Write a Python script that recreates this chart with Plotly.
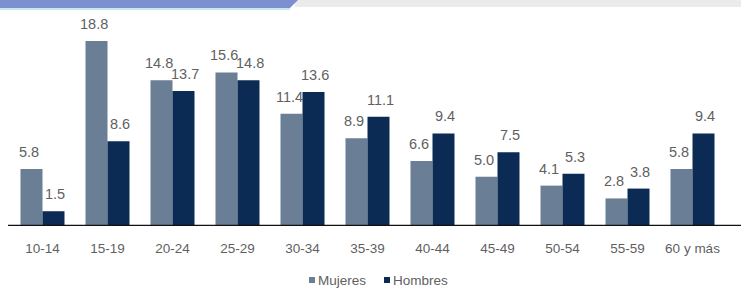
import plotly.graph_objects as go

categories = ["10-14", "15-19", "20-24", "25-29", "30-34", "35-39", "40-44", "45-49", "50-54", "55-59", "60 y más"]
mujeres = [5.8, 18.8, 14.8, 15.6, 11.4, 8.9, 6.6, 5.0, 4.1, 2.8, 5.8]
hombres = [1.5, 8.6, 13.7, 14.8, 13.6, 11.1, 9.4, 7.5, 5.3, 3.8, 9.4]
series_names = ["Mujeres", "Hombres"]
colors = ["#6a7e96", "#0b2b54"]

W, H = 741, 290
L, R, T, B = 10, 16, 34, 64
pw, ph = W - L - R, H - T - B
YMAX = 19.5
TXT = "#5f5f5f"

def px_x(x):
    return (x - L) / pw

def px_y(y):
    return (H - B - y) / ph

fig = go.Figure()
for name, vals, col in zip(series_names, [mujeres, hombres], colors):
    fig.add_trace(go.Bar(
        x=categories, y=vals, name=name,
        marker=dict(color=col, line=dict(width=0)),
        showlegend=False, hoverinfo="skip",
    ))

annotations = []
cat_w = pw / len(categories)
bar_w = cat_w * (1 - 0.323) / 2
for k, vals in enumerate([mujeres, hombres]):
    off = (-0.5 * bar_w - 2) if k == 0 else (0.5 * bar_w + 1.5)
    for c, v in zip(categories, vals):
        annotations.append(dict(
            x=c, y=v, xref="x", yref="y", text=f"{v:.1f}", showarrow=False,
            xanchor="center", yanchor="bottom", xshift=off, yshift=7,
            font=dict(size=14.5, color=TXT),
        ))

# legend (bottom centre)
leg_y = px_y(280)
annotations.append(dict(x=px_x(316), y=leg_y, xref="paper", yref="paper", text=series_names[0],
                        showarrow=False, xanchor="left", yanchor="middle",
                        font=dict(size=13.5, color=TXT)))
annotations.append(dict(x=px_x(391), y=leg_y, xref="paper", yref="paper", text=series_names[1],
                        showarrow=False, xanchor="left", yanchor="middle",
                        font=dict(size=13.5, color=TXT)))

shapes = [
    # header fragment at top
    dict(type="rect", xref="paper", yref="paper", x0=px_x(295), x1=px_x(741),
         y0=px_y(7), y1=px_y(0), fillcolor="#ebebeb", line=dict(width=0), layer="below"),
    dict(type="path", xref="paper", yref="paper",
         path=f"M {px_x(0)},{px_y(0)} L {px_x(298)},{px_y(0)} L {px_x(290)},{px_y(8)} L {px_x(0)},{px_y(8)} Z",
         fillcolor="#7d8fcf", line=dict(width=0), layer="below"),
    dict(type="line", xref="paper", yref="paper", x0=px_x(0), x1=px_x(290),
         y0=px_y(9), y1=px_y(9), line=dict(color="#c4e7f0", width=2)),
    # baseline axis
    dict(type="line", xref="paper", yref="y", x0=px_x(8), x1=px_x(741), y0=0, y1=0,
         line=dict(color="#111111", width=2.5)),
    # legend squares
    dict(type="rect", xref="paper", yref="paper", x0=px_x(309), x1=px_x(315),
         y0=px_y(283), y1=px_y(277), fillcolor=colors[0], line=dict(width=0)),
    dict(type="rect", xref="paper", yref="paper", x0=px_x(384), x1=px_x(390),
         y0=px_y(283), y1=px_y(277), fillcolor=colors[1], line=dict(width=0)),
]

fig.update_layout(
    width=W, height=H,
    margin=dict(l=L, r=R, t=T, b=B, autoexpand=False),
    paper_bgcolor="white", plot_bgcolor="white",
    font=dict(family="Liberation Sans, Arial, sans-serif", color=TXT),
    barmode="group", bargap=0.323, bargroupgap=0,
    showlegend=False,
    xaxis=dict(showline=False, ticks="", automargin=False, ticklabelstandoff=12,
               tickfont=dict(size=13.5, color=TXT), showgrid=False, zeroline=False,
               fixedrange=True),
    yaxis=dict(visible=False, range=[0, YMAX], showgrid=False, zeroline=False, fixedrange=True),
    annotations=annotations,
    shapes=shapes,
)

fig.write_html("out.html", config={"displayModeBar": False},
               post_script="document.body.style.margin='0';")
